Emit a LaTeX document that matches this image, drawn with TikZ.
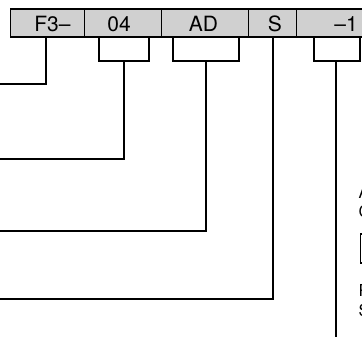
\documentclass[tikz,border=0pt]{standalone}
\usepackage{fontspec}
\setmainfont{TeX Gyre Heros}
\definecolor{barfill}{RGB}{208,208,208}
\tikzset{
  cell/.style={draw=black, line width=1.2pt, fill=barfill, minimum height=28pt, inner sep=0pt, anchor=west},
  celltext/.style={font=\fontsize{21}{24}\selectfont, anchor=base, inner sep=0pt},
  lead/.style={draw=black, line width=1.7pt},
  sidetext/.style={font=\fontsize{16.5}{20}\selectfont, anchor=base west, inner sep=0pt},
}
\begin{document}
\begin{tikzpicture}[x=1pt,y=-1pt]
\useasboundingbox (0,0) rectangle (362,337);
% cells
\node[cell, minimum width=74.5pt] (cF) at (9.5,23) {};
\node[cell, minimum width=77pt] (c04) at (84,23) {};
\node[cell, minimum width=87pt] (cAD) at (161,23) {};
\node[cell, minimum width=48pt] (cS) at (248,23) {};
\node[cell, minimum width=100pt] (c1) at (296,23) {};
% cell texts
\node[celltext] (tF) at (52.5,32) {F3–};
\node[celltext] (t04) at (119,32) {04};
\node[celltext] (tAD) at (203.5,32) {AD};
\node[celltext] (tS) at (275,32) {S};
\node[celltext] (t1) at (346,32) {–1};
% bracket junctions and free ends
\coordinate (jF) at (46,84);
\coordinate (eF) at (-3,84);
\coordinate (j04) at (124,61);
\coordinate (e04) at (-3,159);
\coordinate (jAD) at (206,61);
\coordinate (eAD) at (-3,231);
\coordinate (eS) at (-3,299);
\coordinate (j1) at (336,61);
\coordinate (e1) at (336,340);
% leads
\draw[lead] (cF.south -| jF) -- (jF) -- (eF);
\draw[lead] ([xshift=15pt]c04.south west) |- (j04) -| ([xshift=-13pt]c04.south east);
\draw[lead] (j04) |- (e04);
\draw[lead] ([xshift=12pt]cAD.south west) |- (jAD) -| ([xshift=-10pt]cAD.south east);
\draw[lead] (jAD) |- (eAD);
\draw[lead] (cS.south -| 273,0) |- (eS);
\draw[lead] ([xshift=18pt]c1.south west) |- (j1) -| ([xshift=64pt]c1.south west);
\draw[lead] (j1) -- (e1);
% side texts (cut by the picture edge)
\node[sidetext] (sA) at (358.5,198) {A};
\node[sidetext] (sC) at (358.5,218) {C};
\node[draw=black, line width=1.7pt, minimum width=40pt, minimum height=29pt, inner sep=0pt, anchor=north west] (sbox) at (359.5,233) {};
\node[sidetext] (sP) at (358.5,296) {P};
\node[sidetext] (sS) at (358.5,316) {S};
\end{tikzpicture}
\end{document}
